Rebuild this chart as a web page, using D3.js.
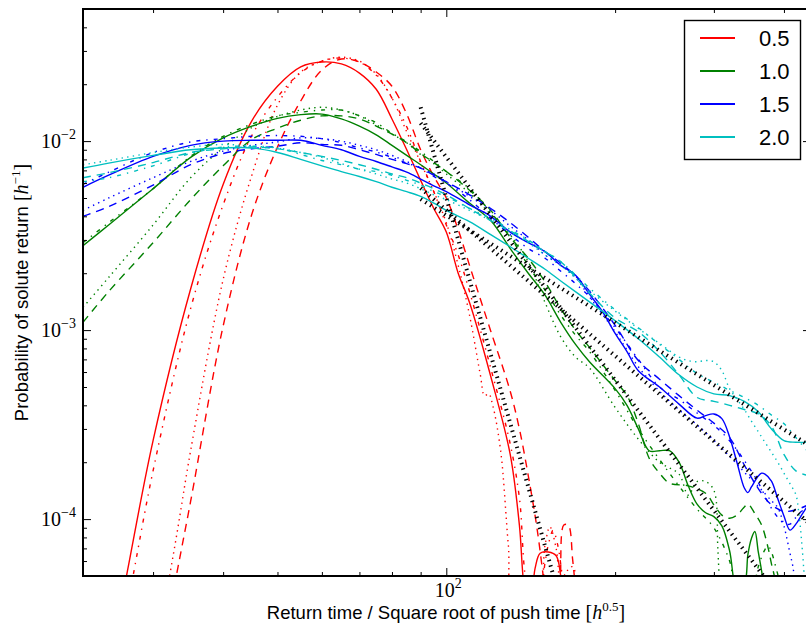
<!DOCTYPE html>
<html>
<head>
<meta charset="utf-8">
<script src="https://cdn.jsdelivr.net/npm/d3@7"></script>
<style>
  body { margin: 0; background: #fff; }
  svg { display: block; font-family: "Liberation Sans", Arial, sans-serif; }
</style>
</head>
<body>
<svg id="chart" width="806" height="630"></svg>
<script>
// legend labels and colours
const labels = ["0.5", "1.0", "1.5", "2.0"];
const colors = ["#ff0000", "#008000", "#0000ff", "#00bfbf"];

// ticks
const majorX = [100];
const minorX = [30, 40, 50, 60, 70, 80, 90, 200, 300, 400];
const majorY = [1e-4, 1e-3, 1e-2];
const minorY = [6e-5, 7e-5, 8e-5, 9e-5, 2e-4, 3e-4, 4e-4, 5e-4, 6e-4, 7e-4, 8e-4, 9e-4,
                2e-3, 3e-3, 4e-3, 5e-3, 6e-3, 7e-3, 8e-3, 9e-3, 2e-2, 3e-2, 4e-2];
const xTickExp = ["2"];
const yTickExp = ["\u22124", "\u22123", "\u22122"];

// ---- 0.5 (red) ----
const redSolidX = [25,27,30,35,40,45,50,55,60,65,70,75,80,85,90,95,100,105,110,120,130,135,138,141,144,147,152,157,160,164];
const redSolidY = [1.6e-5,5.3e-5,2.6e-4,1.65e-3,5.9e-3,0.0128,0.0195,0.0247,0.0262,0.0256,0.0229,0.0188,0.0131,0.0090,0.0062,0.0044,0.0033,0.0020,0.0014,5.7e-4,2.2e-4,9.3e-5,4.2e-5,3.5e-5,5.5e-5,6.6e-5,6.7e-5,6.4e-5,5.0e-5,3.0e-5];
const redDashX = [31,33,35,40,45,50,55,60,65,70,75,80,85,90,95,100,105,110,115,120,130,135,140,145,149,152,158,162,165,168,171];
const redDashY = [1.9e-5,5.0e-5,1.24e-4,1.05e-3,4.1e-3,9.3e-3,0.0163,0.0238,0.0272,0.0262,0.0232,0.0195,0.0139,0.0090,0.0065,0.0050,0.0034,0.0022,0.00146,9.9e-4,4.75e-4,3.0e-4,1.7e-4,9.1e-5,4.9e-5,3.0e-5,3.5e-5,9.3e-5,9.3e-5,6.1e-5,3.5e-5];
const redDotX = [30,33,35,40,45,50,55,60,65,70,75,80,85,90,95,100,105,110,115,117,119,121,125,129,132,145,150,153,157,160,164,168,172];
const redDotY = [1.6e-5,8.0e-5,2.3e-4,1.85e-3,6.6e-3,0.0155,0.0232,0.0265,0.0278,0.0265,0.0226,0.0169,0.0112,0.0077,0.0054,0.0037,0.0022,0.0012,5.8e-4,4.5e-4,4.6e-4,4.0e-4,2.3e-4,7.3e-5,3.7e-5,3.5e-5,7.3e-5,9.1e-5,7.0e-5,4.7e-5,5.3e-5,5.6e-5,4.2e-5];
const redDashDotX = [25,27,30,35,40,45,50,55,60,65,70,75,80,85,90,95,100,105,110,120,130,135,140,146,150,152,155,158,161,165];
const redDashDotY = [1.2e-5,3.5e-5,1.8e-4,1.3e-3,4.6e-3,0.0107,0.0171,0.0230,0.0265,0.0275,0.0262,0.0223,0.0169,0.0119,0.0078,0.0054,0.0036,0.0025,0.0016,6.3e-4,2.5e-4,1.3e-4,4.2e-5,3.5e-5,5.9e-5,7.3e-5,8.7e-5,7.3e-5,5.0e-5,3.0e-5];

// ---- 1.0 (green) ----
const greenSolidX = [22.5,25,30,35,40,45,50,55,60,65,70,75,80,85,90,95,100,110,120,130,140,150,160,170,180,200,210,220,230,240,250,260,270,280,290,300,310,320,330,340,345,350,355,360,365,370];
const greenSolidY = [2.8e-3,3.6e-3,5.6e-3,8.2e-3,0.0104,0.0120,0.0132,0.0138,0.0139,0.0131,0.0120,0.0108,0.0095,0.0084,0.0075,0.0067,0.0060,0.0047,0.0038,0.0027,0.0020,0.00153,0.0011,8.4e-4,6.8e-4,4.9e-4,4.0e-4,3.0e-4,2.3e-4,2.3e-4,2.3e-4,2.0e-4,1.5e-4,1.2e-4,1.08e-4,1.03e-4,9.2e-5,6.8e-5,4.2e-5,4.5e-5,6.5e-5,7.9e-5,8.6e-5,6.7e-5,5.3e-5,4.0e-5];
const greenDashX = [22.5,25,30,35,40,45,50,55,60,65,70,75,80,85,90,95,100,110,120,130,140,150,160,170,180,200,210,220,230,240,250,270,290,300,310,320,330,340,345,355,365,375,380,385,390];
const greenDashY = [1.1e-3,1.6e-3,2.9e-3,4.9e-3,7.4e-3,0.0102,0.0117,0.0129,0.0136,0.0136,0.0131,0.0120,0.0109,0.0098,0.0086,0.0077,0.0069,0.0055,0.0043,0.0031,0.0024,0.0018,0.0013,1.0e-3,8.1e-4,5.4e-4,4.5e-4,3.2e-4,2.1e-4,1.75e-4,1.55e-4,1.5e-4,1.37e-4,1.19e-4,1.05e-4,1.01e-4,1.05e-4,1.16e-4,1.2e-4,1.07e-4,9.3e-5,7.0e-5,5.8e-5,4.9e-5,3.5e-5];
const greenDotX = [22.5,25,30,35,40,45,50,55,60,65,70,75,80,85,90,95,100,110,120,130,140,150,160,170,180,200,220,240,260,270,280,290,300,305,308];
const greenDotY = [1.32e-3,1.9e-3,3.6e-3,6.4e-3,9.2e-3,0.0118,0.0135,0.0146,0.0151,0.0146,0.0136,0.0122,0.0109,0.0098,0.0085,0.0076,0.0067,0.0053,0.0041,0.0032,0.0023,0.0014,9.2e-4,7.2e-4,6.3e-4,3.9e-4,2.65e-4,2.0e-4,1.73e-4,1.34e-4,1.58e-4,1.58e-4,1.42e-4,6.8e-5,3.5e-5];
const greenDashDotX = [22.5,25,30,35,40,45,50,55,60,65,70,75,80,85,90,95,100,110,120,130,140,150,160,170,180,200,220,250,280,300,320,330,350,360,370,375,380,390,400];
const greenDashDotY = [2.9e-3,3.7e-3,5.6e-3,8.3e-3,0.0106,0.0123,0.0136,0.0142,0.0146,0.0146,0.0136,0.0125,0.0110,0.0099,0.0088,0.0078,0.0069,0.0056,0.0042,0.0031,0.0022,0.00163,0.0012,9.4e-4,7.7e-4,4.8e-4,3.0e-4,1.75e-4,1.13e-4,9.0e-5,6.0e-5,4.2e-5,4.2e-5,5.6e-5,6.9e-5,7.2e-5,6.7e-5,5.1e-5,4.0e-5];

// ---- 1.5 (blue) ----
const blueSolidX = [22.5,25,30,35,40,45,50,55,60,65,70,75,80,85,90,95,100,110,120,130,140,150,160,170,180,190,200,210,220,240,260,280,290,300,310,320,330,340,345,350,360,365,370,380,390,400,410,420,430,442];
const blueSolidY = [5.7e-3,6.6e-3,8.3e-3,9.5e-3,0.0100,0.0101,0.0101,0.0101,9.5e-3,9.0e-3,8.3e-3,7.8e-3,7.3e-3,6.85e-3,6.3e-3,5.8e-3,5.4e-3,4.6e-3,4.0e-3,3.3e-3,2.9e-3,2.6e-3,2.2e-3,1.95e-3,1.55e-3,1.25e-3,9.6e-4,7.7e-4,6.1e-4,5.0e-4,4.06e-4,3.42e-4,3.53e-4,3.6e-4,3.4e-4,2.72e-4,1.98e-4,1.46e-4,1.38e-4,1.48e-4,1.69e-4,1.75e-4,1.73e-4,1.59e-4,1.28e-4,1.04e-4,8.75e-5,9.4e-5,1.05e-4,1.19e-4];
const blueDashX = [22.5,25,30,35,40,45,50,55,60,65,70,75,80,85,90,95,100,110,120,130,140,150,160,170,180,200,220,240,260,280,300,320,340,360,380,400,420,442];
const blueDashY = [4.0e-3,4.5e-3,5.85e-3,7.5e-3,8.6e-3,9.1e-3,9.4e-3,9.8e-3,9.6e-3,9.5e-3,9.0e-3,8.5e-3,8.0e-3,7.6e-3,7.2e-3,6.6e-3,6.1e-3,5.2e-3,4.4e-3,3.7e-3,3.1e-3,2.6e-3,2.26e-3,1.93e-3,1.61e-3,1.06e-3,6.9e-4,5.5e-4,4.5e-4,3.77e-4,3.22e-4,2.7e-4,1.93e-4,1.45e-4,1.19e-4,1.1e-4,1.12e-4,1.19e-4];
const blueDotX = [22.5,25,30,35,40,45,50,55,60,65,70,75,80,85,90,95,100,110,120,130,140,150,160,170,180,200,220,240,260,280,300,320,340,360,380,390,400,410,415,420];
const blueDotY = [4.3e-3,5.0e-3,6.4e-3,7.8e-3,8.85e-3,9.5e-3,9.9e-3,0.0104,0.0103,0.0100,9.5e-3,9.0e-3,8.4e-3,7.8e-3,7.2e-3,6.7e-3,6.1e-3,5.1e-3,4.3e-3,3.55e-3,3.0e-3,2.5e-3,2.2e-3,1.9e-3,1.5e-3,9.8e-4,6.4e-4,4.75e-4,3.79e-4,3.15e-4,2.61e-4,2.15e-4,1.77e-4,1.49e-4,1.25e-4,1.15e-4,9.2e-5,6.6e-5,5.6e-5,4.2e-5];
const blueDashDotX = [22.5,25,30,35,40,45,50,55,60,65,70,75,80,85,90,95,100,110,120,130,140,150,160,170,180,200,220,240,260,280,300,320,340,360,380,400,410,420,430,442];
const blueDashDotY = [5.9e-3,6.85e-3,8.7e-3,9.9e-3,0.0103,0.0106,0.0107,0.0106,0.0103,9.8e-3,9.2e-3,8.75e-3,8.2e-3,7.65e-3,7.2e-3,6.5e-3,6.0e-3,4.9e-3,3.9e-3,3.2e-3,2.7e-3,2.4e-3,2.05e-3,1.76e-3,1.5e-3,1.03e-3,7.0e-4,5.0e-4,4.3e-4,3.64e-4,3.13e-4,2.6e-4,2.04e-4,1.56e-4,1.14e-4,9.5e-5,9.4e-5,1.02e-4,1.1e-4,1.14e-4];

// ---- 2.0 (cyan) ----
const cyanSolidX = [22.5,25,30,35,40,45,50,55,60,65,70,75,80,85,90,95,100,110,120,130,140,150,160,180,200,220,240,260,280,300,320,340,360,380,400,420,442];
const cyanSolidY = [7.2e-3,7.65e-3,8.4e-3,9.0e-3,9.2e-3,9.2e-3,8.7e-3,8.0e-3,7.4e-3,6.9e-3,6.5e-3,6.1e-3,5.7e-3,5.4e-3,5.1e-3,4.7e-3,4.3e-3,3.75e-3,3.2e-3,2.76e-3,2.4e-3,2.1e-3,1.82e-3,1.41e-3,1.12e-3,9.0e-4,7.2e-4,5.8e-4,5.0e-4,4.6e-4,4.5e-4,4.2e-4,3.7e-4,3.0e-4,2.6e-4,2.55e-4,2.55e-4];
const cyanDashX = [22.5,25,30,35,40,45,50,55,60,65,70,75,80,85,90,95,100,110,120,130,140,150,160,180,200,220,240,260,280,300,320,340,360,380,400,420,442];
const cyanDashY = [6.4e-3,6.8e-3,7.7e-3,8.7e-3,9.1e-3,9.3e-3,9.1e-3,8.7e-3,8.3e-3,7.9e-3,7.5e-3,7.1e-3,6.7e-3,6.4e-3,6.0e-3,5.6e-3,5.2e-3,4.4e-3,3.8e-3,3.35e-3,2.95e-3,2.6e-3,2.3e-3,1.57e-3,1.16e-3,9.8e-4,7.7e-4,5.8e-4,4.4e-4,4.2e-4,4.0e-4,3.8e-4,3.6e-4,3.1e-4,2.2e-4,1.8e-4,1.7e-4];
const cyanDotX = [22.5,25,30,35,40,45,50,55,60,65,70,75,80,85,90,95,100,110,120,130,140,150,160,180,200,220,240,260,270,280,290,300,310,320,330,340,350,360,370,380,390,400,410,420,425,430,435,440];
const cyanDotY = [7.5e-3,7.9e-3,8.7e-3,9.3e-3,9.6e-3,9.4e-3,9.2e-3,8.7e-3,8.2e-3,7.6e-3,7.1e-3,6.7e-3,6.3e-3,6.0e-3,5.6e-3,5.2e-3,4.9e-3,4.3e-3,3.8e-3,3.3e-3,2.9e-3,2.5e-3,2.2e-3,1.62e-3,1.26e-3,1.02e-3,8.5e-4,7.2e-4,6.9e-4,6.8e-4,6.9e-4,6.8e-4,6.1e-4,4.9e-4,4.3e-4,3.8e-4,3.3e-4,2.9e-4,2.55e-4,2.26e-4,2.0e-4,1.75e-4,1.54e-4,1.35e-4,1.09e-4,7.7e-5,4.9e-5,3.0e-5];
const cyanDashDotX = [22.5,25,30,35,40,45,50,55,60,65,70,75,80,85,90,95,100,110,120,130,140,150,160,180,200,220,240,260,280,300,320,340,360,380,400,420,442];
const cyanDashDotY = [6.1e-3,6.4e-3,7.4e-3,8.6e-3,9.3e-3,9.4e-3,9.2e-3,8.5e-3,7.9e-3,7.5e-3,7.1e-3,6.9e-3,6.6e-3,6.2e-3,5.85e-3,5.4e-3,5.1e-3,4.4e-3,3.9e-3,3.4e-3,3.0e-3,2.6e-3,2.3e-3,1.67e-3,1.28e-3,1.03e-3,8.4e-4,7.0e-4,5.9e-4,5.3e-4,4.8e-4,4.4e-4,4.0e-4,3.55e-4,3.2e-4,2.7e-4,2.26e-4];

// power-law tail fits (black dotted), start and end points
const fitRed   = [[90, 0.0151], [160, 3.66e-5]];
const fitGreen = [[90, 0.01245], [400, 3.6e-5]];
const fitBlue  = [[90, 5.64e-3], [442, 9.6e-5]];
const fitCyan  = [[90, 4.93e-3], [442, 2.47e-4]];

const dashes = { solid: null, dashed: "8,6", dotted: "1.4,4.2", dashdot: "4,6,1.4,6" };

const curves = [
  [redSolidX, redSolidY, 0, "solid"], [redDashX, redDashY, 0, "dashed"],
  [redDotX, redDotY, 0, "dotted"], [redDashDotX, redDashDotY, 0, "dashdot"],
  [greenSolidX, greenSolidY, 1, "solid"], [greenDashX, greenDashY, 1, "dashed"],
  [greenDotX, greenDotY, 1, "dotted"], [greenDashDotX, greenDashDotY, 1, "dashdot"],
  [blueSolidX, blueSolidY, 2, "solid"], [blueDashX, blueDashY, 2, "dashed"],
  [blueDotX, blueDotY, 2, "dotted"], [blueDashDotX, blueDashDotY, 2, "dashdot"],
  [cyanSolidX, cyanSolidY, 3, "solid"], [cyanDashX, cyanDashY, 3, "dashed"],
  [cyanDotX, cyanDotY, 3, "dotted"], [cyanDashDotX, cyanDashDotY, 3, "dashdot"]
];

const padL = 83, padR = 811, padT = 9, padB = 576;
const serif = "'Liberation Serif', 'DejaVu Serif', serif";

const svg = d3.select("#chart");
const x = d3.scaleLog().domain([22.5, 447]).range([padL, padR]);
const y = d3.scaleLog().domain([5e-5, 5e-2]).range([padB, padT]);

svg.append("defs").append("clipPath").attr("id", "plotclip")
  .append("rect").attr("x", padL).attr("y", padT).attr("width", padR - padL).attr("height", padB - padT);

const plot = svg.append("g").attr("clip-path", "url(#plotclip)");
const line = d3.line().x(d => x(d[0])).y(d => y(d[1])).curve(d3.curveCatmullRom.alpha(0.5));

curves.forEach(([xs, ys, ci, style]) => {
  const pts = xs.map((v, i) => [v, ys[i]]);
  plot.append("path")
    .attr("d", line(pts))
    .attr("fill", "none")
    .attr("stroke", colors[ci])
    .attr("stroke-width", 1.4)
    .attr("stroke-dasharray", dashes[style]);
});

const fitLine = d3.line().x(d => x(d[0])).y(d => y(d[1]));
[fitRed, fitGreen, fitBlue, fitCyan].forEach(f => {
  plot.append("path")
    .attr("d", fitLine(f))
    .attr("fill", "none")
    .attr("stroke", "#000")
    .attr("stroke-width", 4)
    .attr("stroke-dasharray", "1.4,4.2");
});

// ticks on all four sides, pointing inward
function ticks(axis, transform, values, size) {
  svg.append("g").attr("transform", transform)
    .call(axis.tickValues(values).tickSize(size).tickSizeOuter(0).tickFormat(""))
    .call(g => g.select(".domain").remove())
    .call(g => g.selectAll(".tick line").attr("stroke", "#000").attr("stroke-width", 1));
}
ticks(d3.axisBottom(x), `translate(0,${padB})`, majorX, -8);
ticks(d3.axisBottom(x), `translate(0,${padB})`, minorX, -4);
ticks(d3.axisTop(x), `translate(0,${padT})`, majorX, -8);
ticks(d3.axisTop(x), `translate(0,${padT})`, minorX, -4);
ticks(d3.axisLeft(y), `translate(${padL},0)`, majorY, -8);
ticks(d3.axisLeft(y), `translate(${padL},0)`, minorY, -4);
ticks(d3.axisRight(y), `translate(${padR},0)`, majorY, -8);
ticks(d3.axisRight(y), `translate(${padR},0)`, minorY, -4);

svg.append("rect")
  .attr("x", padL).attr("y", padT).attr("width", padR - padL).attr("height", padB - padT)
  .attr("fill", "none").attr("stroke", "#000").attr("stroke-width", 2);

// tick labels 10^n
svg.selectAll(".ylab").data(majorY).join("text")
  .attr("class", "ylab")
  .attr("x", padL - 7).attr("y", d => y(d) + 7)
  .attr("text-anchor", "end")
  .style("font-family", serif).style("font-size", "20px")
  .each(function(d, i) {
    const t = d3.select(this);
    t.append("tspan").text("10");
    t.append("tspan").attr("dy", -9).style("font-size", "14px").text(yTickExp[i]);
  });

svg.selectAll(".xlab").data(majorX).join("text")
  .attr("class", "xlab")
  .attr("x", d => x(d) + 2).attr("y", padB + 21)
  .attr("text-anchor", "middle")
  .style("font-family", serif).style("font-size", "20px")
  .each(function(d, i) {
    const t = d3.select(this);
    t.append("tspan").text("10");
    t.append("tspan").attr("dy", -9).style("font-size", "14px").text(xTickExp[i]);
  });

// axis titles
const xt = svg.append("text")
  .attr("x", (padL + padR) / 2 - 1).attr("y", 619)
  .attr("text-anchor", "middle").style("font-size", "18.5px");
xt.append("tspan").text("Return time / Square root of push time ");
xt.append("tspan").style("font-family", serif).style("font-size", "20px").text("[");
xt.append("tspan").style("font-family", serif).style("font-style", "italic").style("font-size", "20px").text("h");
xt.append("tspan").attr("dy", -8).style("font-family", serif).style("font-size", "13px").text("0.5");
xt.append("tspan").attr("dy", 8).style("font-family", serif).style("font-size", "20px").text("]");

const yt = svg.append("text")
  .attr("transform", `translate(28,${(padT + padB) / 2}) rotate(-90)`)
  .attr("text-anchor", "middle").style("font-size", "18.5px");
yt.append("tspan").text("Probability of solute return ");
yt.append("tspan").style("font-family", serif).style("font-size", "20px").text("[");
yt.append("tspan").style("font-family", serif).style("font-style", "italic").style("font-size", "20px").text("h");
yt.append("tspan").attr("dy", -8).style("font-family", serif).style("font-size", "13px").text("\u22121");
yt.append("tspan").attr("dy", 8).style("font-family", serif).style("font-size", "20px").text("]");

// legend
const lg = svg.append("g");
lg.append("rect").attr("x", 684.5).attr("y", 20.5).attr("width", 116).attr("height", 139)
  .attr("fill", "#fff").attr("stroke", "#000").attr("stroke-width", 1.4);
labels.forEach((lab, i) => {
  const cy = 38 + i * 33;
  lg.append("line").attr("x1", 700).attr("x2", 735).attr("y1", cy).attr("y2", cy)
    .attr("stroke", colors[i]).attr("stroke-width", 1.8);
  lg.append("text").attr("x", 759).attr("y", cy + 8).style("font-size", "22px").text(lab);
});
</script>
</body>
</html>
